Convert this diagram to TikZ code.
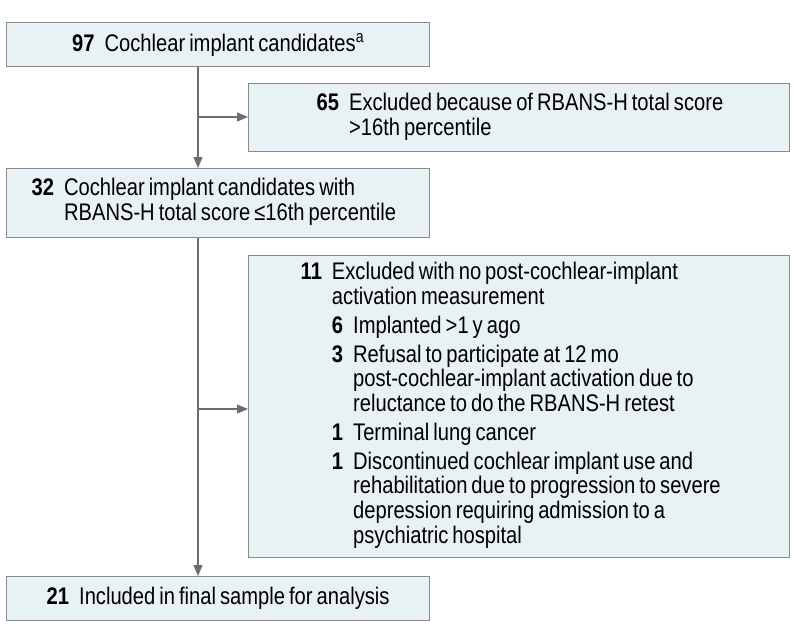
\documentclass[tikz,border=0pt]{standalone}
\usepackage{fontspec}
\setmainfont[FakeStretch=0.84, WordSpace=0.72]{Liberation Sans}
\usepackage{xcolor}
\usetikzlibrary{arrows.meta,positioning,calc}

\definecolor{boxfill}{HTML}{E8F1F3}
\definecolor{boxline}{HTML}{8A8A8A}
\definecolor{linkgray}{HTML}{6E6E6E}
\newcommand{\cnt}[1]{\textbf{#1}}

\begin{document}
\begin{tikzpicture}[
    x=1pt, y=-1pt,
    font=\fontsize{24}{24.5}\selectfont,
    stage/.style={rectangle, draw=boxline, fill=boxfill, line width=1.3pt, anchor=north west, inner ysep=0pt},
    mainbox/.style={stage, minimum width=423pt, minimum height=44pt, align=center},
    listbox/.style={stage, align=left, inner xsep=#1, execute at begin node={\spaceskip=0pt\xspaceskip=0pt}},
    arrow/.style={-{Triangle[length=11pt,width=9pt]}, line width=1.3pt, draw=linkgray}
]
    \useasboundingbox (0,0) rectangle (794,640);

    \node (cand) [mainbox] at (6,22) {\cnt{97}\hspace{10pt}Cochlear implant candidates\textsuperscript{a}};
    \node (excl1) [listbox=68pt, text width=405pt, minimum height=68pt] at (248,83) {%
        \begin{tabular}{@{}l@{\hspace{10pt}}l@{}}
        \cnt{65} & Excluded because of RBANS-H total score\\
                 & >16th percentile
        \end{tabular}};
    \node (elig) [listbox=25pt, text width=373pt, minimum height=69pt] at (6,168) {%
        \begin{tabular}{@{}l@{\hspace{10pt}}l@{}}
        \cnt{32} & Cochlear implant candidates with\\
                 & RBANS-H total score ≤16th percentile
        \end{tabular}};
    \node (excl2) [listbox=52pt, text width=437pt, minimum height=302pt] at (248,255) {%
        \begin{tabular}{@{}l@{\hspace{10pt}}l@{\hspace{10pt}}l@{}}
        \cnt{11} & \multicolumn{2}{@{}l@{}}{Excluded with no post-cochlear-implant}\\
                 & \multicolumn{2}{@{}l@{}}{activation measurement}\\[4pt]
                 & \cnt{6} & Implanted >1 y ago\\[4pt]
                 & \cnt{3} & Refusal to participate at 12 mo\\
                 &         & post-cochlear-implant activation due to\\
                 &         & reluctance to do the RBANS-H retest\\[4pt]
                 & \cnt{1} & Terminal lung cancer\\[4pt]
                 & \cnt{1} & Discontinued cochlear implant use and\\
                 &         & rehabilitation due to progression to severe\\
                 &         & depression requiring admission to a\\
                 &         & psychiatric hospital
        \end{tabular}};
    \node (final) [mainbox] at (6,576) {\cnt{21}\hspace{10pt}Included in final sample for analysis};

    % branch points on the main spine
    \coordinate (split1) at (198,117);
    \coordinate (split2) at (198,409);

    \draw [arrow] (split1 |- cand.south) -- (split1 |- elig.north);
    \draw [arrow] (split1) -- (split1 -| excl1.west);
    \draw [arrow] (split2 |- elig.south) -- (split2 |- final.north);
    \draw [arrow] (split2) -- (split2 -| excl2.west);
\end{tikzpicture}
\end{document}
